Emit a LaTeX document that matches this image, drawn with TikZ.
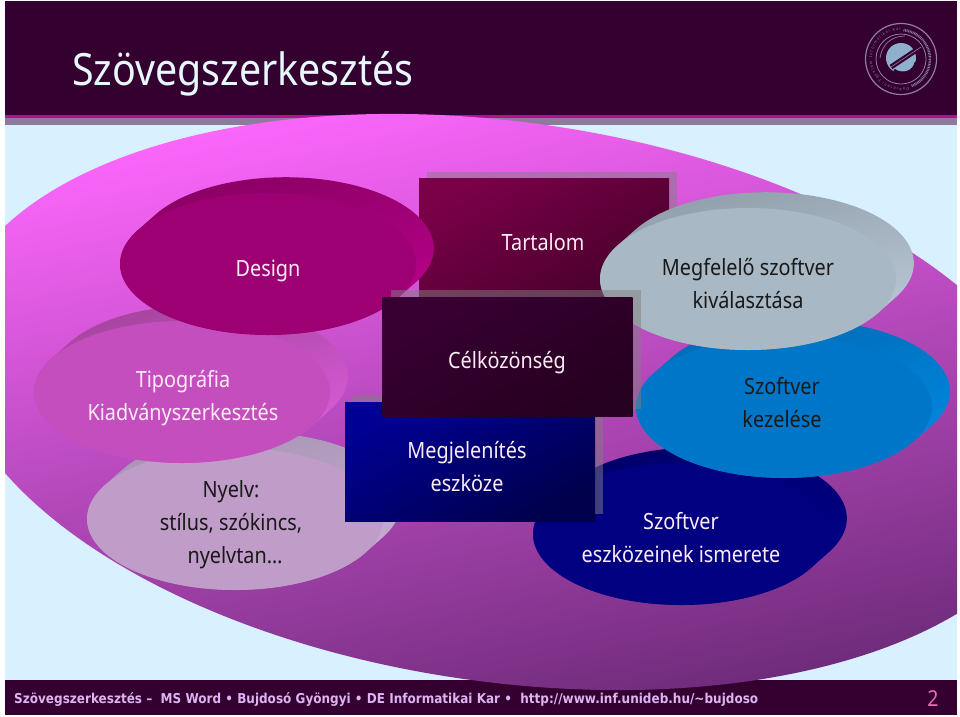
\documentclass[tikz,border=0pt]{standalone}
\usepackage{fontspec}
\setmainfont[FakeStretch=0.885]{Noto Sans}
\newfontfamily\footfont[FakeStretch=0.885]{DejaVu Sans}
\usepackage{tikz}
\usetikzlibrary{calc,positioning,shapes.geometric,decorations.text}
\definecolor{headbg}{HTML}{33002F}
\definecolor{skybg}{HTML}{D8F0FF}
\definecolor{headline}{HTML}{B3128C}
\definecolor{headband}{HTML}{8C7B9B}
\definecolor{footink}{HTML}{DDB4F2}
\definecolor{sealink}{HTML}{8F7FA3}
\definecolor{sealdisc}{HTML}{8FB0CC}
\definecolor{diskhi}{HTML}{FB66FB}
\definecolor{diskmid}{HTML}{D856D4}
\definecolor{disklo}{HTML}{702C7C}
\definecolor{designfront}{HTML}{9C0072}
\definecolor{designhi}{HTML}{860060}
\definecolor{designlo}{HTML}{C00090}
\definecolor{tipofront}{HTML}{C44EBE}
\definecolor{tipohi}{HTML}{A04298}
\definecolor{tipolo}{HTML}{E260E2}
\definecolor{nyelvfront}{HTML}{C09CC8}
\definecolor{nyelvhi}{HTML}{A392B0}
\definecolor{nyelvlo}{HTML}{CEB0D6}
\definecolor{eszkozfront}{HTML}{000080}
\definecolor{eszkozhi}{HTML}{000068}
\definecolor{eszkozlo}{HTML}{00008C}
\definecolor{kezelesfront}{HTML}{0076C8}
\definecolor{kezeleshi}{HTML}{0068B0}
\definecolor{kezeleslo}{HTML}{008CE8}
\definecolor{megffront}{HTML}{A8B8C4}
\definecolor{megfhi}{HTML}{8E9CA8}
\definecolor{megflo}{HTML}{BECEDA}
\definecolor{tartalomhi}{HTML}{7A0048}
\definecolor{tartalomlo}{HTML}{48002C}
\definecolor{celhi}{HTML}{380032}
\definecolor{cello}{HTML}{260020}
\definecolor{megjhi}{HTML}{000094}
\definecolor{megjlo}{HTML}{00004C}
% oldalfal: kozeppont, felso es also szin
\newcommand{\blobside}[4]{\shade[top color=#3, bottom color=#4, shading angle=15]
  ({#1+148},{#2+18}) arc[start angle=-28.4, end angle=151.6, x radius=148pt, y radius=71pt]
  -- ({#1-130},{#2-34}) arc[start angle=151.6, end angle=331.6, x radius=148pt, y radius=71pt] -- cycle;}

\begin{document}
\begin{tikzpicture}[x=1pt, y=-1pt,
  blob/.style={ellipse, minimum width=296pt, minimum height=142pt, inner sep=0pt},
  blobtext/.style={align=center, inner sep=0pt, font=\fontsize{22.4}{33}\selectfont},
  slab/.style 2 args={rectangle, minimum width=250pt, minimum height=119pt, inner sep=0pt, top color=#1, bottom color=#2, shading angle=30},
  slabshade/.style={rectangle, minimum width=250pt, minimum height=119pt, inner sep=0pt, fill=gray, fill opacity=0.5},
  lighttext/.style={text=white!92!magenta},
  darktext/.style={text=black!90}]

\useasboundingbox (0,0) rectangle (960,716);
\fill[white] (0,0) rectangle (960,716);

% Alap
\fill[skybg] (5,124) rectangle (957,681);
\node[rectangle, fill=headbg, minimum width=952pt, minimum height=114pt, inner sep=0pt] (head) at (481,58) {};
\fill[headline] (5,115) rectangle (957,118);
\fill[headband] (5,118) rectangle (957,125);
\node[rectangle, fill=headbg, minimum width=952pt, minimum height=35pt, inner sep=0pt] (foot) at (481,697.5) {};

% Nagy korong
\begin{scope}
  \clip (5,0) rectangle (957,716);
  \clip[rotate around={-8:(505,402)}] (505,402) ellipse [x radius=560, y radius=280];
  \shade[top color=diskhi, middle color=diskmid, bottom color=disklo, shading angle=12] (5,110) rectangle (957,700);
\end{scope}

% Cim es lablec
\node[text=white!90!cyan, font=\fontsize{44.5}{50}\selectfont, anchor=west, inner sep=0pt] (title) at (72,74) {Szövegszerkesztés};
\node[text=footink, font=\footfont\bfseries\fontsize{13.6}{16}\selectfont, anchor=west, inner sep=0pt] (footline) at (14,700) {Szövegszerkesztés –\ \ MS Word • Bujdosó Gyöngyi • DE Informatikai Kar •\ \ http://www.inf.unideb.hu/\textasciitilde bujdoso};
\node[text=magenta!60!white, font=\fontsize{22}{24}\selectfont] (pagenum) at (933,699) {2};

% Pecset
\node[circle, draw=sealink, line width=1.2pt, minimum size=71pt, inner sep=0pt] (seal) at (901,59) {};
\node[circle, draw=sealink, line width=0.8pt, minimum size=50pt, inner sep=0pt] (sealin) at (seal) {};
\node[circle, fill=sealdisc, minimum size=30pt, inner sep=0pt] (sealcore) at (901,58) {};
\path[decorate, decoration={text along path, text align={fit to path}, text color=sealink, text={|\fontsize{4}{5}\selectfont|Debreceni Egyetem Informatikai Kar}}]
  (seal.center) ++(-75:29pt) arc[start angle=-75, end angle=-270, radius=29pt];
\draw[sealink, line width=2.5pt, dash pattern=on 0.8pt off 0.8pt] (seal.center) ++(85:29pt) arc[start angle=85, end angle=-70, radius=29pt];
\draw[headbg, line width=5pt] (891,67) -- (921,47);
\draw[sealink, line width=0.6pt] (891,67) -- (921,47);
\draw[headbg, line width=2.5pt] (894,70) .. controls (903,76) and (914,72) .. (916,62);
\draw[sealink, line width=0.7pt] (880,58) .. controls (882,44) and (892,36) .. (905,36);

% Ellipszisek, hatulrol elore
\blobside{235}{519}{nyelvhi}{nyelvlo}
\node[blob, fill=nyelvfront] (nyelv) at (235,519) {};
\node[blobtext, darktext] (nyelvtext) at (235,525) {\hspace*{-8pt}Nyelv:\\\hspace*{-8pt}stílus, szókincs,\\nyelvtan…};
\blobside{182}{392}{tipohi}{tipolo}
\node[blob, fill=tipofront] (tipo) at (182,392) {};
\node[blobtext, lighttext] (tipotext) at (183,398) {Tipográfia\\Kiadványszerkesztés};

% Tartalom
\node[slabshade] (tartalomback) at (552,231) {};
\node[slab={tartalomhi}{tartalomlo}] (tartalom) at (544,238) {};
\node[blobtext, lighttext] (tartalomtext) at (543,242) {Tartalom};

\blobside{268}{264}{designhi}{designlo}
\node[blob, fill=designfront] (design) at (268,264) {};
\node[blobtext, lighttext] (designtext) at (268,271) {Design};

\blobside{681}{534}{eszkozhi}{eszkozlo}
\node[blob, fill=eszkozfront] (eszkoz) at (681,534) {};
\node[blobtext, lighttext] (eszkoztext) at (681,538) {Szoftver\\eszközeinek ismerete};
\blobside{784}{407}{kezeleshi}{kezeleslo}
\node[blob, fill=kezelesfront] (kezeles) at (784,407) {};
\node[blobtext, darktext] (kezelestext) at (782,403) {Szoftver\\kezelése};
\blobside{748}{279}{megfhi}{megflo}
\node[blob, fill=megffront] (megfelelo) at (748,279) {};
\node[blobtext, darktext] (megfelelotext) at (748,283.5) {Megfelelő szoftver\\kiválasztása};

% Teglalapok
\node[slabshade] (megjback) at (478,454) {};
\node[slab={megjhi}{megjlo}] (megj) at (470,461.5) {};
\node[blobtext, lighttext] (megjtext) at (467,466.5) {Megjelenítés\\eszköze};
\node[slabshade] (celback) at (515.5,349.5) {};
\node[slab={celhi}{cello}] (cel) at (507.5,357) {};
\node[blobtext, lighttext] (celtext) at (507,363) {Célközönség};

\end{tikzpicture}
\end{document}
